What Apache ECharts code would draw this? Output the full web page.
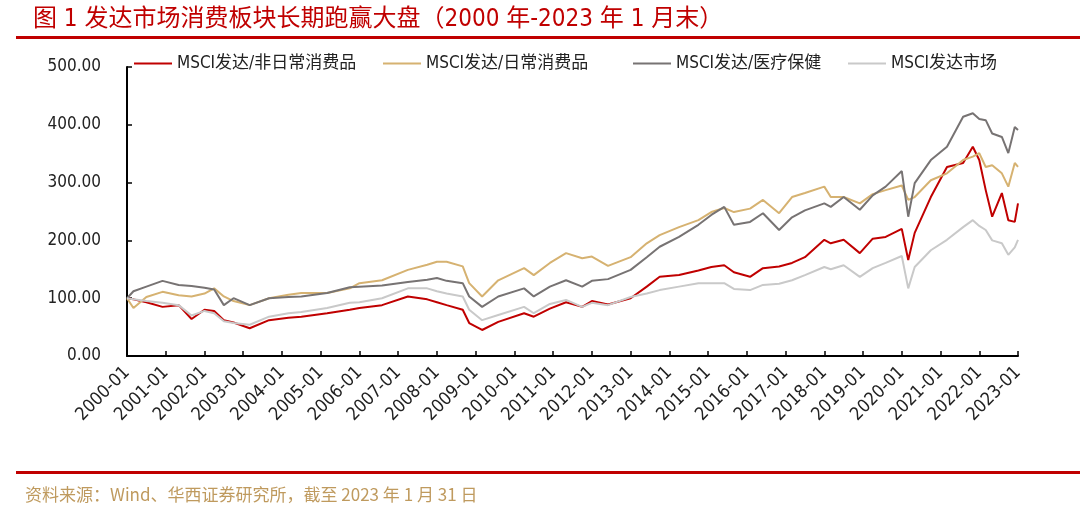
<!DOCTYPE html>
<html>
<head>
<meta charset="utf-8">
<title>发达市场消费板块长期跑赢大盘</title>
<script src="https://cdn.jsdelivr.net/npm/echarts@6/dist/echarts.min.js"></script>
<style>
  html, body { margin: 0; padding: 0; background: #fff; }
  #chart { width: 1080px; height: 525px; }
</style>
</head>
<body>
<div id="chart"></div>
<script>
// 日期（月）
const dates = [
  '2000-01', '2000-03', '2000-07', '2000-12', '2001-05', '2001-09', '2002-01', '2002-04',
  '2002-07', '2002-10', '2003-03', '2003-09', '2004-03', '2004-07', '2005-03', '2005-10',
  '2006-01', '2006-08', '2007-04', '2007-10', '2008-01', '2008-04', '2008-09', '2008-11',
  '2009-03', '2009-08', '2010-04', '2010-07', '2010-12', '2011-05', '2011-10', '2012-01',
  '2012-06', '2013-01', '2013-06', '2013-10', '2014-04', '2014-10', '2015-02', '2015-06',
  '2015-09', '2016-02', '2016-06', '2016-11', '2017-03', '2017-07', '2018-01', '2018-03',
  '2018-07', '2018-12', '2019-04', '2019-08', '2020-01', '2020-03', '2020-05', '2020-10',
  '2021-03', '2021-08', '2021-11', '2022-01', '2022-03', '2022-05', '2022-08', '2022-10',
  '2022-12', '2023-01'
]

// MSCI发达/非日常消费品
const discretionary = [
  100, 98, 93, 85, 88, 64, 80, 78,
  62, 58, 48, 62, 66, 68, 74, 80,
  83, 88, 103, 98, 93, 88, 80, 57,
  45, 59, 74, 68, 82, 93, 85, 95,
  89, 100, 120, 137, 140, 148, 154, 157,
  145, 137, 152, 155, 161, 171, 201, 195,
  201, 178, 203, 206, 220, 166, 213, 275,
  327, 334, 362, 339, 287, 241, 282, 235,
  232, 264
]

// MSCI发达/日常消费品
const staples = [
  100, 83, 102, 111, 105, 103, 108, 117,
  103, 95, 88, 100, 106, 109, 109, 117,
  126, 131, 149, 158, 163, 163, 155, 126,
  103, 131, 152, 140, 161, 178, 169, 172,
  156, 171, 195, 209, 223, 235, 249, 256,
  249, 255, 270, 247, 275, 282, 293, 275,
  275, 264, 280, 287, 295, 270, 275, 304,
  316, 339, 345, 351, 327, 330, 316, 293,
  334, 327
]

// MSCI发达/医疗保健
const healthcare = [
  100, 112, 120, 130, 123, 121, 118, 115,
  88, 100, 88, 100, 102, 103, 109, 119,
  120, 122, 128, 132, 135, 130, 126, 103,
  85, 103, 117, 103, 120, 131, 120, 130,
  133, 149, 171, 189, 206, 227, 244, 258,
  227, 232, 247, 218, 240, 252, 264, 258,
  275, 253, 278, 293, 320, 241, 299, 339,
  362, 414, 420, 410, 408, 385, 379, 351,
  396, 391
]

// MSCI发达市场
const market = [
  100, 98, 95, 92, 88, 70, 78, 74,
  60, 57, 54, 68, 74, 76, 83, 92,
  93, 100, 117, 117, 112, 108, 103, 80,
  62, 71, 85, 74, 90, 97, 85, 92,
  88, 102, 108, 114, 120, 126, 126, 126,
  116, 114, 123, 125, 131, 140, 154, 150,
  157, 137, 152, 161, 173, 117, 154, 183,
  201, 223, 235, 225, 218, 200, 195, 175,
  188, 201
]

const seriesNames = ['MSCI发达/非日常消费品', 'MSCI发达/日常消费品', 'MSCI发达/医疗保健', 'MSCI发达市场']
const seriesColors = ['#c00000', '#d6b271', '#777373', '#c9c9c9']
const legendLeft = [129, 378, 628, 843]

// 年月 -> 小数年
const toYear = (s) => {
  const [y, m] = s.split('-').map(Number)
  return y + (m - 1) / 12
}

const pair = (values) => dates.map((d, i) => [toYear(d), values[i]])

const chart = echarts.init(document.getElementById('chart'))

const textFont = "'Liberation Sans Narrow', 'DejaVu Sans Condensed', 'Noto Sans CJK SC', sans-serif"

const option = {
  animation: false,
  backgroundColor: '#fff',
  title: {
    text: '图 1 发达市场消费板块长期跑赢大盘（2000 年-2023 年 1 月末）',
    left: 28,
    top: 3,
    textStyle: {
      color: '#c00000',
      fontSize: 24,
      fontWeight: 'normal',
      fontFamily: textFont
    }
  },
  graphic: [
    { type: 'rect', shape: { x: 16, y: 36, width: 1064, height: 3 }, style: { fill: '#c00000' } },
    { type: 'rect', shape: { x: 16, y: 471, width: 1064, height: 3 }, style: { fill: '#c00000' } },
    {
      type: 'text',
      left: 25,
      top: 486,
      style: {
        text: '资料来源：Wind、华西证券研究所，截至 2023 年 1 月 31 日',
        fill: '#bf9a5e',
        font: "17px 'Liberation Sans Narrow', 'Noto Sans CJK SC', sans-serif"
      }
    }
  ],
  // 每个图例单独定位
  legend: seriesNames.map((name, i) => ({
    left: legendLeft[i],
    top: 50,
    icon: 'rect',
    itemWidth: 38,
    itemHeight: 2,
    itemGap: 0,
    textStyle: {
      color: '#222',
      fontSize: 17,
      fontFamily: textFont
    },
    data: [name]
  })),
  grid: {
    left: 127,
    right: 62,
    top: 67,
    bottom: 169
  },
  xAxis: {
    type: 'value',
    min: 2000,
    max: 2023,
    interval: 1,
    splitLine: { show: false },
    axisLine: { lineStyle: { color: '#000', width: 2 } },
    axisTick: { inside: true, length: 5, lineStyle: { color: '#000', width: 1.5 } },
    axisLabel: {
      rotate: 45,
      margin: 14,
      color: '#222',
      fontSize: 18,
      fontFamily: textFont,
      formatter: (v) => v + '-01'
    }
  },
  yAxis: {
    type: 'value',
    min: 0,
    max: 500,
    interval: 100,
    splitLine: { show: false },
    axisLine: { show: true, lineStyle: { color: '#000', width: 2 } },
    axisTick: { show: true, inside: true, length: 5, lineStyle: { color: '#000', width: 1.5 } },
    axisLabel: {
      margin: 26,
      color: '#222',
      fontSize: 17,
      fontFamily: textFont,
      formatter: (v) => v.toFixed(2)
    }
  },
  series: [discretionary, staples, healthcare, market].map((values, i) => ({
    name: seriesNames[i],
    type: 'line',
    showSymbol: false,
    data: pair(values),
    itemStyle: { color: seriesColors[i] },
    lineStyle: { color: seriesColors[i], width: 2 }
  }))
}

chart.setOption(option)
</script>
</body>
</html>
